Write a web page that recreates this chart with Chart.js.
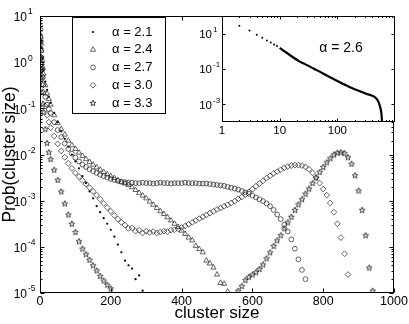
<!DOCTYPE html>
<html>
<head>
<meta charset="utf-8">
<title>Cluster size distributions</title>
<script src="https://cdn.jsdelivr.net/npm/chart.js"></script>
<style>
  html, body { margin: 0; padding: 0; background: #fff; }
  #wrap { position: relative; width: 409px; height: 324px; }
  #main { position: absolute; left: 0; top: 0; }
  #inset { position: absolute; left: 190px; top: 6px; }
</style>
</head>
<body>
<div id="wrap">
  <canvas id="main" width="409" height="324"></canvas>
  <canvas id="inset" width="215" height="134"></canvas>
</div>
<script>
// ── Data ─────────────────────────────────────────
// cluster sizes where each distribution is sampled
const sizes = [1, 2, 3, 4, 6, 8, 10, 15, 20, 25, 30,
  40, 50, 60, 70, 80, 90, 100, 110, 120, 130,
  140, 150, 160, 170, 180, 190, 200, 210, 220, 230,
  240, 250, 260, 270, 280, 290, 300, 310, 320, 330,
  340, 350, 360, 370, 380, 390, 400, 410, 420, 430,
  440, 450, 460, 470, 480, 490, 500, 510, 520, 530,
  540, 550, 560, 570, 580, 590, 600, 610, 620, 630,
  640, 650, 660, 670, 680, 690, 700, 710, 720, 730,
  740, 750, 760, 770, 780, 790, 800, 810, 820, 830,
  840, 850, 860, 870, 880, 890, 900, 910, 920, 930,
  940, 950, 960, 970, 980, 990, 1000];

// log10 of Prob(cluster size), one array per alpha (null = below 1e-5)
const alphas = ['2.1', '2.4', '2.7', '3.0', '3.3'];

const logP21 = [0.88, 0.6, 0.45, 0.32, 0.1, -0.05, -0.18, -0.42, -0.6, -0.75, -0.88,
  -1.1, -1.3, -1.5, -1.66, -1.83, -2.0, -2.15, -2.3, -2.47, -2.62,
  -2.8, -2.95, -3.12, -3.25, -3.38, -3.5, -3.63, -3.78, -3.95, -4.12,
  -4.3, -4.4, -4.47, -4.7, -4.62, -4.95];

const logP24 = [0.8, 0.55, 0.4, 0.25, 0.05, -0.12, -0.25, -0.5, -0.68, -0.8, -0.92,
  -1.15, -1.32, -1.45, -1.57, -1.7, -1.8, -1.88, -1.96, -2.03, -2.1,
  -2.16, -2.22, -2.28, -2.33, -2.38, -2.43, -2.47, -2.51, -2.56, -2.6,
  -2.63, -2.66, -2.71, -2.77, -2.83, -2.89, -2.95, -3.02, -3.09, -3.16,
  -3.23, -3.29, -3.36, -3.43, -3.5, -3.57, -3.65, -3.72, -3.8, -3.86,
  -3.98, -4.05, -4.12, -4.3, -4.36, -4.45, -4.6, -4.78, -4.8, -4.97];

const logP27 = [0.7, 0.45, 0.25, 0.1, -0.15, -0.33, -0.48, -0.75, -0.92, -1.02, -1.1,
  -1.3, -1.47, -1.62, -1.76, -1.88, -1.98, -2.07, -2.15, -2.22, -2.27,
  -2.32, -2.36, -2.4, -2.44, -2.47, -2.5, -2.53, -2.55, -2.57, -2.59,
  -2.6, -2.61, -2.61, -2.62, -2.62, -2.61, -2.62, -2.62, -2.63, -2.62,
  -2.61, -2.62, -2.62, -2.63, -2.62, -2.62, -2.62, -2.61, -2.62, -2.62,
  -2.62, -2.63, -2.63, -2.63, -2.64, -2.65, -2.66, -2.67, -2.68, -2.7,
  -2.72, -2.74, -2.76, -2.79, -2.82, -2.85, -2.89, -2.93, -2.97, -3.01,
  -3.06, -3.12, -3.2, -3.3, -3.4, -3.52, -3.67, -3.84, -4.04, -4.27,
  -4.5, -4.7];

const logP30 = [0.55, 0.3, 0.1, -0.05, -0.3, -0.5, -0.65, -0.95, -1.15, -1.3, -1.42,
  -1.6, -1.77, -1.92, -2.06, -2.19, -2.3, -2.4, -2.48, -2.56, -2.64,
  -2.72, -2.8, -2.88, -2.97, -3.06, -3.15, -3.23, -3.32, -3.4, -3.47,
  -3.53, -3.6, -3.59, -3.66, -3.64, -3.7, -3.66, -3.69, -3.67, -3.7,
  -3.68, -3.66, -3.67, -3.64, -3.63, -3.61, -3.58, -3.55, -3.51, -3.47,
  -3.43, -3.39, -3.35, -3.31, -3.27, -3.23, -3.19, -3.16, -3.12, -3.09,
  -3.05, -3.01, -2.96, -2.92, -2.87, -2.81, -2.75, -2.69, -2.63, -2.57,
  -2.51, -2.46, -2.41, -2.37, -2.33, -2.29, -2.26, -2.24, -2.23, -2.23,
  -2.24, -2.27, -2.32, -2.4, -2.5, -2.62, -2.75, -2.88, -3.05, -3.25,
  -3.5, -3.8, -4.15, -4.6];

const logP33 = [0.45, 0.1, -0.15, -0.35, -0.65, -0.9, -1.08, -1.45, -1.75, -1.95, -2.1,
  -2.33, -2.55, -2.8, -3.06, -3.3, -3.5, -3.68, -3.88, -4.04, -4.16,
  -4.28, -4.4, -4.51, -4.63, -4.73, -4.82, -4.9, null, null, null,
  null, null, null, null, null, null, null, null, null, null,
  null, null, null, null, null, null, null, null, null, null,
  null, null, null, null, null, null, null, null, null, null,
  null, null, -4.95, -4.85, -4.72, -4.65, -4.6, -4.55, -4.48, -4.38,
  -4.25, -4.12, -3.98, -3.86, -3.75, -3.6, -3.47, -3.35, -3.2, -3.08,
  -2.97, -2.85, -2.74, -2.62, -2.5, -2.38, -2.27, -2.17, -2.08, -2.0,
  -1.96, -1.95, -1.97, -2.06, -2.2, -2.45, -2.78, -3.2, -3.75, -4.45,
  -4.95];

// inset: alpha = 2.6 on log-log axes
const insetSizes = [2, 3, 4, 5, 6, 7, 8, 9, 10, 22, 27, 43, 84, 163, 318, 442, 503, 553, 580, 603];
const insetLogP = [1.455, 1.174, 0.933, 0.764, 0.612, 0.5, 0.388, 0.298, 0.2, -0.57, -0.71, -1.05,
  -1.55, -2.02, -2.4, -2.58, -2.78, -3.15, -3.5, -4.2];

// tick labels
const xTickStep = 200;
const yExps = [1, 0, -1, -2, -3, -4, -5];
const insetXTicks = [1, 10, 100];
const insetYExps = [1, -1, -3];

// ── Helpers ──────────────────────────────────────
Chart.defaults.font.family = "'Liberation Sans', Arial, Helvetica, sans-serif";
Chart.defaults.color = '#000';

const toPoints = (vals) => vals
  .map((v, i) => (v === null ? null : { x: sizes[i], y: Math.pow(10, v) }))
  .filter(Boolean);

function pentagram() {
  const c = document.createElement('canvas');
  c.width = 8; c.height = 8;
  const g = c.getContext('2d');
  g.beginPath();
  for (let i = 0; i < 10; i++) {
    const r = i % 2 ? 1.25 : 3.1;
    const t = -Math.PI / 2 + i * Math.PI / 5;
    const px = 4 + r * Math.cos(t), py = 4.3 + r * Math.sin(t);
    if (i) g.lineTo(px, py); else g.moveTo(px, py);
  }
  g.closePath();
  g.strokeStyle = '#111';
  g.lineWidth = 0.75;
  g.stroke();
  return c;
}

const markers = [
  { pointStyle: 'circle', pointRadius: 1.1, pointBackgroundColor: '#000', pointBorderWidth: 0 },
  { pointStyle: 'triangle', pointRadius: 3, pointBackgroundColor: 'rgba(0,0,0,0)', pointBorderWidth: 0.7 },
  { pointStyle: 'circle', pointRadius: 2.4, pointBackgroundColor: 'rgba(0,0,0,0)', pointBorderWidth: 0.7 },
  { pointStyle: 'rectRot', pointRadius: 2.9, pointBackgroundColor: 'rgba(0,0,0,0)', pointBorderWidth: 0.7 },
  { pointStyle: pentagram(), pointRadius: 3, pointBackgroundColor: 'rgba(0,0,0,0)', pointBorderWidth: 0 },
];

const series = [logP21, logP24, logP27, logP30, logP33];
const datasets = series.map((vals, i) => ({
  label: 'α = ' + alphas[i],
  data: toPoints(vals),
  pointBorderColor: '#222',
  order: -i,
  ...markers[i],
}));

// ── Main axes: frame, inward ticks, 10^n labels, legend ──
const mainAxes = {
  id: 'mainAxes',
  afterDraw(chart) {
    const { ctx, chartArea: a, scales: { x, y } } = chart;
    const L = Math.round(a.left) + 0.5, R = Math.round(a.right) - 0.5;
    const T = Math.round(a.top) + 0.5, B = Math.round(a.bottom) - 0.5;
    ctx.save();
    ctx.strokeStyle = '#000';
    ctx.lineWidth = 1;
    ctx.strokeRect(L, T, R - L, B - T);

    ctx.beginPath();
    x.ticks.forEach((t) => {
      const px = Math.round(x.getPixelForValue(t.value)) + 0.5;
      ctx.moveTo(px, B); ctx.lineTo(px, B - 4);
      ctx.moveTo(px, T); ctx.lineTo(px, T + 4);
    });
    yExps.forEach((e) => {
      for (let m = 1; m < 10; m++) {
        const v = m * Math.pow(10, e);
        if (v > y.max || v < y.min) continue;
        const py = Math.round(y.getPixelForValue(v)) + 0.5;
        const len = m === 1 ? 4 : 2;
        ctx.moveTo(L, py); ctx.lineTo(L + len, py);
        ctx.moveTo(R, py); ctx.lineTo(R - len, py);
      }
    });
    ctx.stroke();

    ctx.fillStyle = '#000';
    ctx.textBaseline = 'middle';
    yExps.forEach((e) => {
      const py = y.getPixelForValue(Math.pow(10, e));
      ctx.font = "12px 'Liberation Sans', Arial, sans-serif";
      ctx.textAlign = 'right';
      ctx.fillText('10', 27, py + 2);
      ctx.font = "8.5px 'Liberation Sans', Arial, sans-serif";
      ctx.textAlign = 'left';
      ctx.fillText(e < 0 ? '-' + (-e) : String(e), 28, py - 4);
    });

    // legend box
    const box = { left: 72.5, top: 17.5, right: 165.5, bottom: 113.5 };
    ctx.fillStyle = '#fff';
    ctx.fillRect(box.left, box.top, box.right - box.left, box.bottom - box.top);
    ctx.strokeRect(box.left, box.top, box.right - box.left, box.bottom - box.top);
    chart.data.datasets.forEach((ds, i) => {
      const ly = 32 + i * 17.75;
      ctx.fillStyle = ds.pointBackgroundColor;
      ctx.strokeStyle = ds.pointBorderColor;
      ctx.lineWidth = ds.pointBorderWidth || 0.01;
      Chart.helpers.drawPoint(ctx, {
        pointStyle: ds.pointStyle, radius: ds.pointRadius, rotation: 0,
        borderWidth: ds.pointBorderWidth,
      }, 93, ly);
      ctx.fillStyle = '#000';
      ctx.font = "13px 'Liberation Sans', Arial, sans-serif";
      ctx.textAlign = 'left';
      ctx.fillText(ds.label, 112, ly);
    });
    ctx.restore();
  },
};

new Chart(document.getElementById('main'), {
  type: 'scatter',
  data: { datasets },
  options: {
    responsive: false,
    animation: false,
    events: [],
    layout: { padding: { top: 16, right: 15, left: 0, bottom: 0 } },
    plugins: { legend: { display: false }, tooltip: { enabled: false } },
    scales: {
      x: {
        type: 'linear', min: 0, max: 1000,
        ticks: { stepSize: xTickStep, color: '#000', font: { size: 12.5 }, padding: 1, maxRotation: 0,
          callback: (v) => String(v) },
        grid: { display: false, drawTicks: false },
        border: { display: false },
        title: { display: true, text: 'cluster size', color: '#000', font: { size: 17 }, padding: { top: 0, bottom: 0 } },
        afterFit: (s) => { s.height = 31; },
      },
      y: {
        type: 'logarithmic', min: 1e-5, max: 10,
        ticks: { display: false },
        grid: { display: false, drawTicks: false },
        border: { display: false },
        title: { display: true, text: 'Prob(cluster size)', color: '#000', font: { size: 17.5 }, padding: { top: 0, bottom: 0 } },
        afterFit: (s) => { s.width = 40; },
      },
    },
  },
  plugins: [mainAxes],
});

// ── Inset (log-log, alpha = 2.6) ─────────────────
const insetPoints = insetSizes.map((s, i) => ({ x: s, y: Math.pow(10, insetLogP[i]) }));

const insetAxes = {
  id: 'insetAxes',
  beforeDraw(chart) {
    const { ctx, chartArea: a } = chart;
    ctx.save();
    ctx.fillStyle = '#fff';
    ctx.fillRect(a.left, a.top, a.right - a.left, a.bottom - a.top);
    ctx.restore();
  },
  afterDraw(chart) {
    const { ctx, chartArea: a, scales: { x, y } } = chart;
    const L = Math.round(a.left) + 0.5, R = Math.round(a.right) - 0.5;
    const T = Math.round(a.top) + 0.5, B = Math.round(a.bottom) - 0.5;
    ctx.save();
    ctx.strokeStyle = '#000';
    ctx.lineWidth = 1;
    ctx.strokeRect(L, T, R - L, B - T);
    ctx.beginPath();
    for (let e = 0; e < 3; e++) {
      for (let m = 1; m < 10; m++) {
        const px = Math.round(x.getPixelForValue(m * Math.pow(10, e))) + 0.5;
        const len = m === 1 ? 3 : 1.5;
        ctx.moveTo(px, B); ctx.lineTo(px, B - len);
        ctx.moveTo(px, T); ctx.lineTo(px, T + len);
      }
    }
    insetYExps.forEach((e) => {
      const py = Math.round(y.getPixelForValue(Math.pow(10, e))) + 0.5;
      ctx.moveTo(L, py); ctx.lineTo(L + 3, py);
      ctx.moveTo(R, py); ctx.lineTo(R - 3, py);
    });
    ctx.stroke();

    ctx.fillStyle = '#000';
    ctx.textBaseline = 'middle';
    ctx.textAlign = 'center';
    ctx.font = "11.5px 'Liberation Sans', Arial, sans-serif";
    insetXTicks.forEach((v) => {
      ctx.fillText(String(v), x.getPixelForValue(v), a.bottom + 9);
    });
    insetYExps.forEach((e) => {
      const py = y.getPixelForValue(Math.pow(10, e));
      ctx.font = "11.5px 'Liberation Sans', Arial, sans-serif";
      ctx.textAlign = 'right';
      ctx.fillText('10', a.left - 10, py + 1);
      ctx.font = "8px 'Liberation Sans', Arial, sans-serif";
      ctx.textAlign = 'left';
      ctx.fillText(e < 0 ? '-' + (-e) : String(e), a.left - 9, py - 4);
    });
    ctx.font = "14px 'Liberation Sans', Arial, sans-serif";
    ctx.textAlign = 'center';
    ctx.fillText('α = 2.6', 151, 42);
    ctx.restore();
  },
};

new Chart(document.getElementById('inset'), {
  type: 'scatter',
  data: {
    datasets: [
      {
        data: insetPoints.filter((p) => p.x < 10),
        pointRadius: 1, pointBackgroundColor: '#000', pointBorderWidth: 0,
      },
      {
        data: insetPoints.filter((p) => p.x >= 10),
        showLine: true, borderColor: '#000', borderWidth: 2.2,
        pointRadius: 0, cubicInterpolationMode: 'monotone', clip: 0,
      },
    ],
  },
  options: {
    responsive: false,
    animation: false,
    events: [],
    layout: { padding: { left: 32, top: 10, right: 10, bottom: 18 } },
    plugins: { legend: { display: false }, tooltip: { enabled: false } },
    scales: {
      x: { type: 'logarithmic', min: 1, max: 1000, display: false },
      y: { type: 'logarithmic', min: 1e-4, max: 100, display: false },
    },
  },
  plugins: [insetAxes],
});
</script>
</body>
</html>
